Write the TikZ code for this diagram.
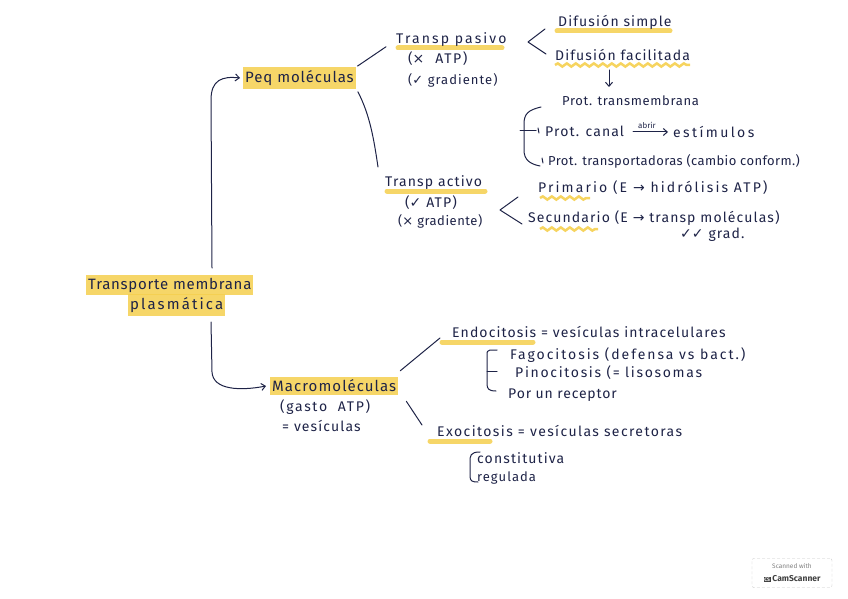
\documentclass[tikz,border=0pt]{standalone}
\usepackage{fontspec}
\setmainfont{Fira Sans}
\newfontfamily\symf{DejaVu Sans}
\newfontfamily\plainf{Fira Sans}
\usetikzlibrary{decorations.pathmorphing,arrows.meta}
\definecolor{ink}{HTML}{1E2347}
\definecolor{hl}{HTML}{F5CF4E}
\pgfdeclarelayer{bg}
\pgfsetlayers{bg,main}
\newcommand{\ok}{{\symf ✓}}
\newcommand{\no}{{\symf ×}}
\newcommand{\ra}{{\symf →}}
\tikzset{
 ls/.style n args={2}{font=\fontsize{#1}{#1}\selectfont\addfontfeature{LetterSpace=#2}},
 txt/.style={anchor=west,inner sep=0pt,text=ink,ls={14}{8}},
 hlnode/.style={txt,fill=hl,fill opacity=0.85,text opacity=1,inner xsep=2pt,inner ysep=3pt},
 conn/.style={draw=ink,line width=1pt,line cap=round,line join=round},
 hlline/.style={draw=hl,line width=5pt,line cap=round,opacity=0.85},
 wavy/.style={draw=hl,line width=2.5pt,decorate,decoration={snake,amplitude=1.6pt,segment length=9pt},opacity=0.9},
 arr/.style={conn,-{Straight Barb[length=4pt,width=7pt]}},
}
\begin{document}
\begin{tikzpicture}[x=1pt,y=-1pt]
\useasboundingbox (0,0) rectangle (848,599);

% root
\node[hlnode,ls={15}{5}] (tm) at (86,285) {Transporte membrana};
\node[hlnode,ls={15}{14}] (pl) at (128,305) {plasmática};

% small molecules branch
\node[hlnode,ls={15}{6}] (peq) at (243,78) {Peq moléculas};
\node[txt,ls={14}{15}] (tpas) at (396,40) {Transp pasivo};
\node[txt,ls={14}{12}] (pas1) at (408,59) {(\no\ \ ATP)};
\node[txt,ls={13}{8}] (pas2) at (408,80) {(\ok\ gradiente)};
\node[txt] (ds) at (558,22) {Difusión simple};
\node[txt] (df) at (555,55) {Difusión facilitada};
\node[txt,ls={13}{5}] (ptm) at (562,101) {Prot. transmembrana};
\node[txt] (pcan) at (545,131) {Prot. canal};
\node[txt,ls={8}{0}] (abr) at (638,125) {abrir};
\node[txt,ls={14}{17}] (est) at (673,132) {estímulos};
\node[txt,ls={13}{3}] (ptr) at (548,161) {Prot. transportadoras (cambio conform.)};

\node[txt] (tact) at (385,183) {Transp activo};
\node[txt] (act1) at (405,203) {(\ok\ ATP)};
\node[txt,ls={13}{4}] (act2) at (398,221) {(\no\ gradiente)};
\node[txt,ls={14}{15}] (prim) at (538,188) {Primario (E \ra\ hidrólisis ATP)};
\node[txt] (sec) at (528,218) {Secundario (E \ra\ transp moléculas)};
\node[txt] (grad) at (680,235) {\ok\ok\ grad.};

% macromolecules branch
\node[hlnode,ls={15}{7}] (mac) at (270,386) {Macromoléculas};
\node[txt,ls={14}{12}] (mac1) at (280,407) {(gasto\ \ ATP)};
\node[txt] (mac2) at (282,426) {= vesículas};
\node[txt] (endo) at (452,332) {Endocitosis = vesículas intracelulares};
\node[txt,ls={14}{14}] (fag) at (510,355) {Fagocitosis (defensa vs bact.)};
\node[txt,ls={14}{12}] (pin) at (515,373) {Pinocitosis (= lisosomas};
\node[txt,ls={14}{6}] (rec) at (508,395) {Por un receptor};
\node[txt,ls={14}{10}] (exo) at (437,431) {Exocitosis = vesículas secretoras};
\node[txt] (con) at (477,458) {constitutiva};
\node[txt,ls={13}{8}] (reg) at (477,478) {regulada};

% highlights (underlines)
\begin{pgfonlayer}{bg}
\draw[hlline] (398,48) -- (502,48);
\draw[hlline] (557,31) -- (670,31);
\draw[wavy] (555,65) -- (690,65);
\draw[hlline] (387,191) -- (485,191);
\draw[wavy] (540,198) -- (590,198);
\draw[wavy] (540,229) -- (598,229);
\draw[hlline] (442,342) -- (533,342);
\draw[hlline] (430,441) -- (490,441);
\end{pgfonlayer}

% connectors
\coordinate (r0) at (212,268);
\coordinate (r1) at (211,322);
\draw[arr] (r0) -- (211,100) .. controls (211,80) and (222,76) .. ([xshift=-3pt]peq.west);
\draw[arr] (r1) -- (212,372) .. controls (213,390) and (240,391) .. ([xshift=-4pt]mac.west);

\draw[conn,shorten <=2pt,shorten >=12pt] (peq.north east) -- (tpas.west);
\draw[conn] ([shift={(2,3)}]peq.south east) .. controls (370,115) and (374,140) .. ([shift={(-7,-16)}]tact.west);

\coordinate (pv) at (528,42);
\draw[conn] (545,29) -- (pv) -- (546,54);
\draw[arr] (609,70) -- (609,87);

\coordinate (bt) at (541,107);
\coordinate (bb) at (540,166);
\draw[conn] (bt) .. controls (528,110) and (524,114) .. (524,124) -- (524,150) .. controls (524,160) and (530,164) .. (bb);
\draw[conn] (520,131) -- (536,131);
\draw[conn] (538,128) -- (539,133);
\draw[conn] (542,158) -- (543,163);
\draw[arr] (633,132) -- (668,132);

\coordinate (av) at (500,210);
\draw[conn] (518,197) -- (av) -- (522,224);

\draw[conn] ([shift={(2,-6)}]mac.north east) -- (440,338);
\draw[conn] ([shift={(8,6)}]mac.south east) -- (422,425);

\draw[conn] (497,350) -- (490,350) .. controls (487,350) and (487,352) .. (487,356) -- (487,384) .. controls (487,389) and (489,391) .. (496,391);
\draw[conn] (487,371) -- (497,371);
\draw[conn] (480,452) .. controls (470,452) and (470,456) .. (470,462) -- (470,476) .. controls (470,481) and (472,482) .. (478,482);

% scanner badge
\node[draw=gray!45,densely dashed,rounded corners=2pt,minimum width=80pt,minimum height=29pt,align=center,inner sep=1pt] (cs) at (792,573)
 {\plainf\fontsize{6.5}{7}\selectfont\color{gray}Scanned with\\[1pt]
  {\setlength{\fboxsep}{0.8pt}\fontsize{5}{5}\selectfont\bfseries\colorbox{black!75}{\color{white}CS}}\,{\fontsize{8.5}{9}\selectfont\bfseries\color{black!75}CamScanner}};
\end{tikzpicture}
\end{document}
